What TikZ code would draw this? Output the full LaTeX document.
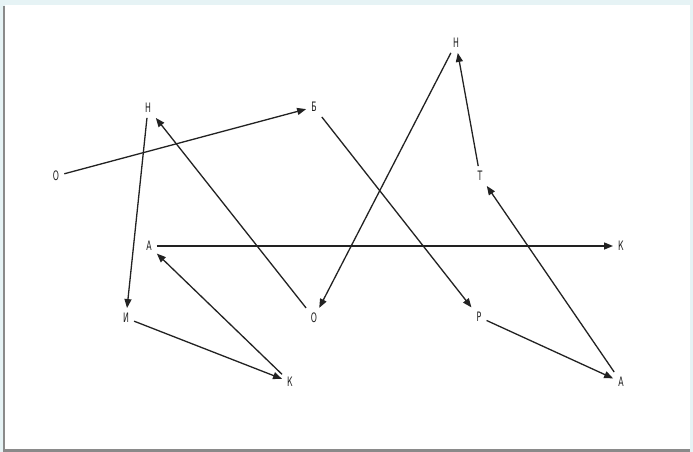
\documentclass[tikz,border=0pt]{standalone}
\usepackage{fontspec}
\newfontfamily\labfont[FakeStretch=0.6]{DejaVu Sans}
\usetikzlibrary{arrows.meta}
\definecolor{bgcyan}{HTML}{E6F3F5}
\definecolor{shadow}{HTML}{8A8A8A}
\definecolor{inkc}{HTML}{222222}
\tikzset{
  lab/.style={font=\labfont\fontsize{13}{13}\selectfont, text=inkc, inner sep=5pt},
  arr/.style={draw=inkc, line width=1.3pt, -{Triangle[length=9pt,width=7pt]}}
}
\begin{document}
\begin{tikzpicture}[x=1pt,y=-1pt]
\useasboundingbox (0,0) rectangle (693,452);
\fill[bgcyan] (0,0) rectangle (693,452);
\fill[shadow] (3,6) rectangle (690,452);
\fill[white] (5,5) rectangle (690,449);

\node[lab] (o1) at (56,176) {О};
\node[lab] (n1) at (148,108) {Н};
\node[lab] (b) at (314,107) {Б};
\node[lab] (n2) at (456,43) {Н};
\node[lab] (t) at (480,176) {Т};
\node[lab] (a1) at (149,246) {А};
\node[lab] (k1) at (621,246) {К};
\node[lab] (i) at (126,318) {И};
\node[lab] (o2) at (314,318) {О};
\node[lab] (r) at (479,317) {Р};
\node[lab] (k2) at (290,382) {К};
\node[lab] (a2) at (621,382) {А};

\draw[arr] (o1) -- (b);
\draw[arr] (n1) -- (i);
\draw[arr] (o2) -- (n1);
\draw[arr] (b) -- (r);
\draw[arr] (n2) -- (o2);
\draw[arr] (t) -- (n2);
\draw[arr] (a2) -- (t);
\draw[arr] (a1) -- (k1);
\draw[arr] (k2) -- (a1);
\draw[arr] (i) -- (k2);
\draw[arr] (r) -- (a2);
\end{tikzpicture}
\end{document}
